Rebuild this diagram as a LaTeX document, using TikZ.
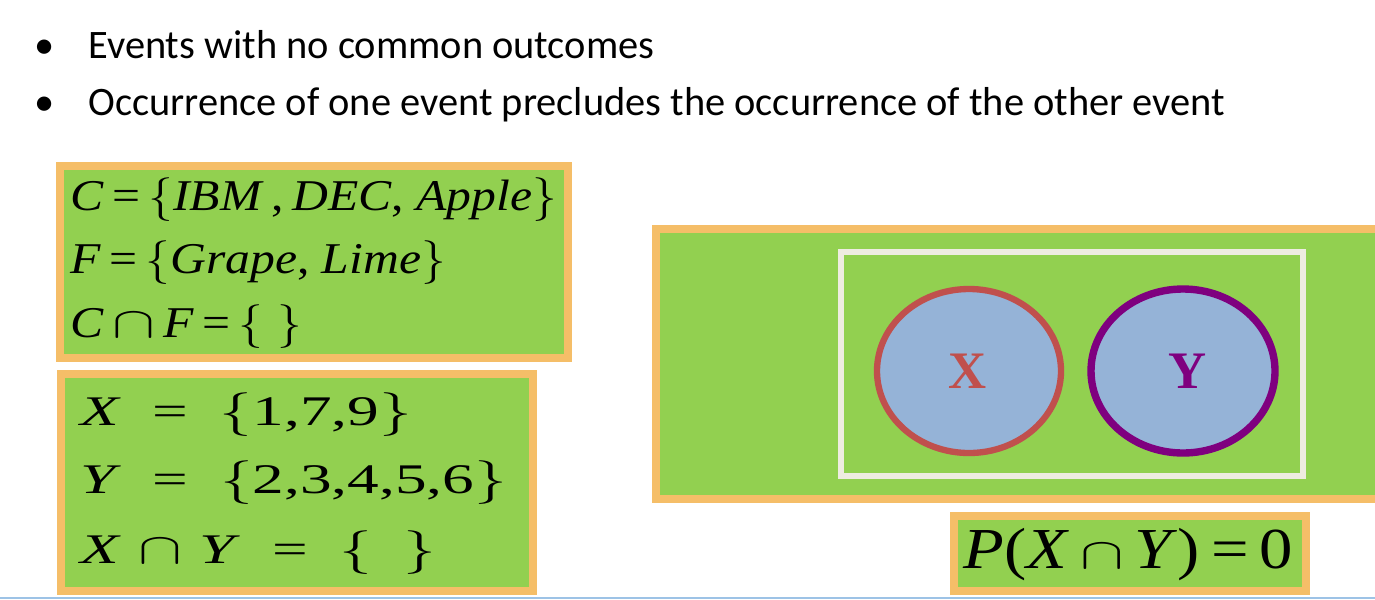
\documentclass[tikz,border=0pt]{standalone}
\usepackage{fontspec}
\setmainfont{Liberation Serif}
\newfontfamily\slidefont{Carlito}
\definecolor{boxgreen}{HTML}{92D050}
\definecolor{boxorange}{HTML}{F5BE68}
\definecolor{setblue}{HTML}{95B3D7}
\definecolor{setred}{HTML}{C0504D}
\definecolor{setpurple}{HTML}{7F007F}
\definecolor{univwhite}{HTML}{EEECE1}
\definecolor{rulecol}{HTML}{9DC3E6}
\newcommand{\SetL}{$\bigl\{$}
\newcommand{\SetR}{$\bigr\}$}
\newcommand{\WideCap}{\scalebox{1.3}[1]{$\cap$}}
\tikzset{
  frame/.style={draw=boxorange,fill=boxgreen,line width=4.5pt},
  bulletline/.style={font=\slidefont\fontsize{23}{26}\selectfont,anchor=base west,inner sep=0pt},
  setline/.style={font=\fontsize{25}{30}\selectfont,anchor=base west,inner sep=0pt},
  bigline/.style={font=\fontsize{24}{30}\selectfont,anchor=base west,inner sep=0pt},
  setlabel/.style={font=\bfseries\fontsize{30}{32}\selectfont,inner sep=0pt},
}
\begin{document}
\begin{tikzpicture}[x=0.02cm,y=-0.02cm]
    \useasboundingbox (0,0) rectangle (1375,599);
    \clip (0,0) rectangle (1375,599);

    % Bullets
    \node[bulletline] (dot1) at (34,58) {\textbullet};
    \node[bulletline] (ev1) at (88,58) {Events with no common outcomes};
    \node[bulletline] (dot2) at (34,115) {\textbullet};
    \node[bulletline] (ev2) at (88,115) {Occurrence of one event precludes the occurrence of the other event};

    % Fruit and company sets
    \draw[frame] (60,166) rectangle (568,358);
    \node[setline] (cset) at (70,210) {\scalebox{1.13}[1]{\textit{C}\,=\,\SetL\textit{IBM}\,,\,\textit{DEC}, \textit{Apple}\SetR}};
    \node[setline] (fset) at (70,273) {\scalebox{1.13}[1]{\textit{F}\,=\,\SetL\textit{Grape}, \textit{Lime}\SetR}};
    \node[setline] (cfset) at (70,337) {\scalebox{1.13}[1]{\textit{C}\,\WideCap\,\textit{F}\,=\,\SetL\;\SetR}};

    % Number sets
    \draw[frame] (61,374) rectangle (533,591);
    \node[bigline] (xset) at (80,425) {\scalebox{1.5}[1]{\textit{X}\enspace=\enspace\SetL1,7,9\SetR}};
    \node[bigline] (yset) at (80,493) {\scalebox{1.5}[1]{\textit{Y}\enspace=\enspace\SetL2,3,4,5,6\SetR}};
    \node[bigline] (xyset) at (80,563) {\scalebox{1.5}[1]{\textit{X}\;$\cap$\;\textit{Y}\enspace=\enspace\SetL\hspace{0.5em}\SetR}};

    % Venn diagram
    \draw[frame] (656,229) rectangle (1420,499);
    \draw[univwhite,line width=3.4pt] (841,252) rectangle (1303,476);
    \draw[setred,fill=setblue,line width=3.6pt] (969,371) ellipse [x radius=92, y radius=82];
    \draw[setpurple,fill=setblue,line width=4.2pt] (1183,371) ellipse [x radius=92, y radius=82];
    \node[setlabel,text=setred] (xlab) at (968,371) {X};
    \node[setlabel,text=setpurple] (ylab) at (1188,371) {Y};

    % Probability
    \draw[frame] (954,516) rectangle (1306,591);
    \node[font=\fontsize{33}{36}\selectfont,anchor=base west,inner sep=0pt] (prob) at (963,568) {\scalebox{1.15}[1]{\textit{P}(\textit{X}\,\WideCap\,\textit{Y})\,=\,0}};

    % Bottom rule
    \draw[rulecol,line width=0.8pt] (0,598) -- (1375,598);
\end{tikzpicture}
\end{document}
